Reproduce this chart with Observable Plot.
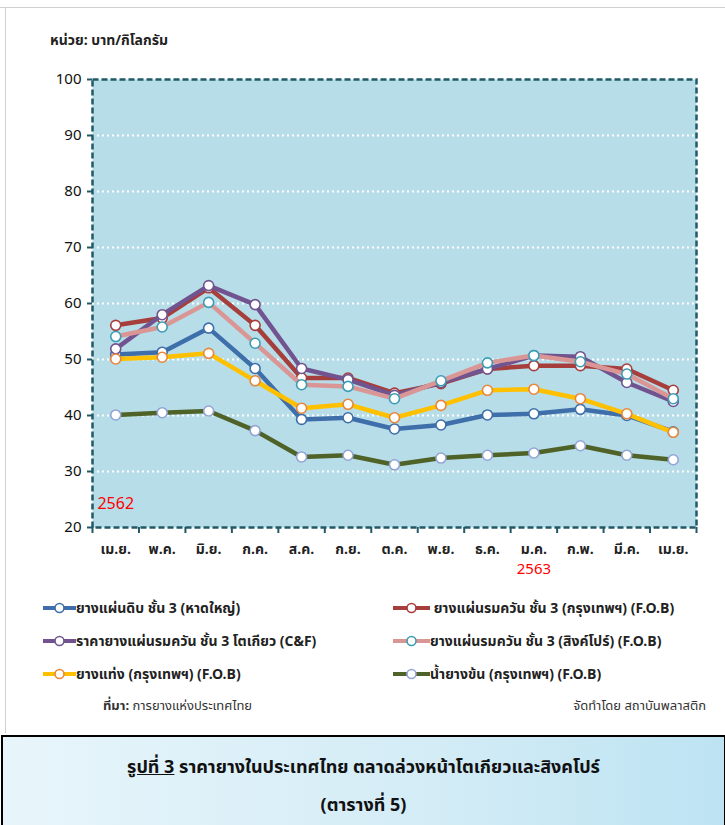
<!DOCTYPE html>
<html>
<head>
<meta charset="utf-8">
<script src="https://cdn.jsdelivr.net/npm/d3@7"></script>
<script src="https://cdn.jsdelivr.net/npm/@observablehq/plot@0.6"></script>
<style>
  html, body { margin: 0; padding: 0; background: #fff; }
  body { width: 725px; height: 825px; overflow: hidden; font-family: "Noto Sans Thai", Tahoma, "Liberation Sans", "DejaVu Sans", sans-serif; }
  #page { position: relative; width: 725px; height: 825px; }
  #chart { position: absolute; left: 0; top: 0; }
  .edge-top { position: absolute; left: 0; top: 7px; width: 725px; height: 1px; background: #d0d0d0; }
  .edge-left { position: absolute; left: 5px; top: 8px; width: 1px; height: 725px; background: #d0d0d0; }
  .unit { position: absolute; left: 50px; top: 30px; font-size: 14px; font-weight: bold; color: #222; }
  .leg { position: absolute; font-size: 14px; font-weight: bold; color: #222; display: flex; align-items: center; white-space: nowrap; }
  .leg svg { display: block; }
  .src { position: absolute; top: 696px; font-size: 13px; color: #333; }
  .titlebox { position: absolute; left: 1px; top: 735px; width: 721px; height: 100px; border: 2px solid #000; background: linear-gradient(90deg, #e8f5fb 0%, #d3ecf6 60%, #bde3f2 100%); text-align: center; font-weight: bold; font-size: 18px; color: #111; }
  .titlebox .l1 { position: absolute; left: 0; right: 0; top: 17px; }
  .titlebox .l2 { position: absolute; left: 0; right: 0; top: 55px; }
</style>
</head>
<body>
<div id="page">
  <div class="edge-top"></div>
  <div class="edge-left"></div>
  <div id="chart"></div>
  <div class="unit">หน่วย: บาท/กิโลกรัม</div>
  <div id="legend"></div>
  <div class="src" style="left:103px;"><b>ที่มา:</b> การยางแห่งประเทศไทย</div>
  <div class="src" style="right:19px;">จัดทำโดย สถาบันพลาสติก</div>
  <div class="titlebox">
    <div class="l1"><u>รูปที่ 3</u> ราคายางในประเทศไทย ตลาดล่วงหน้าโตเกียวและสิงคโปร์</div>
    <div class="l2">(ตารางที่ 5)</div>
  </div>
</div>
<script>
// ---- data ----
const months = ["เม.ย.","พ.ค.","มิ.ย.","ก.ค.","ส.ค.","ก.ย.","ต.ค.","พ.ย.","ธ.ค.","ม.ค.","ก.พ.","มี.ค.","เม.ย."];
const yearLabels = ["2562", "2563"];
const yearPositions = [0, 9];
const yTicks = [20, 30, 40, 50, 60, 70, 80, 90, 100];

const rss3Hatyai = [50.9, 51.3, 55.6, 48.4, 39.3, 39.6, 37.6, 38.3, 40.1, 40.3, 41.1, 40.0, 37.1];
const rss3Bangkok = [56.1, 57.4, 62.8, 56.1, 46.7, 46.7, 44.0, 45.7, 48.3, 48.9, 48.9, 48.3, 44.5];
const rss3Tokyo = [51.9, 58.0, 63.2, 59.8, 48.4, 46.4, 43.6, 45.9, 48.3, 50.7, 50.5, 45.9, 42.5];
const rss3Singapore = [54.1, 55.8, 60.2, 52.9, 45.5, 45.2, 43.0, 46.2, 49.4, 50.7, 49.6, 47.4, 43.0];
const str20Bangkok = [50.1, 50.4, 51.1, 46.2, 41.3, 42.0, 39.6, 41.8, 44.5, 44.7, 43.0, 40.3, 37.0];
const latexBangkok = [40.1, 40.5, 40.8, 37.3, 32.6, 32.9, 31.2, 32.4, 32.9, 33.3, 34.6, 32.9, 32.1];

const seriesNames = [
  "ยางแผ่นดิบ ชั้น 3 (หาดใหญ่)",
  " ยางแผ่นรมควัน ชั้น 3 (กรุงเทพฯ) (F.O.B)",
  "ราคายางแผ่นรมควัน ชั้น 3 โตเกียว (C&F)",
  "ยางแผ่นรมควัน ชั้น 3 (สิงค์โปร์) (F.O.B)",
  "ยางแท่ง (กรุงเทพฯ) (F.O.B)",
  "น้ำยางข้น (กรุงเทพฯ) (F.O.B)"
];
const seriesValues = [rss3Hatyai, rss3Bangkok, rss3Tokyo, rss3Singapore, str20Bangkok, latexBangkok];
const lineColors = ["#3F6FAA", "#A63E3C", "#71548F", "#DA9694", "#FFC000", "#4F6228"];
const markerColors = ["#3F6FAA", "#A63E3C", "#71548F", "#3A9DB5", "#E8863A", "#93A4D6"];

// ---- table ----
const rows = [];
seriesValues.forEach((vals, s) => vals.forEach((v, i) => rows.push({s, i, v})));
const years = yearLabels.map((label, k) => ({label, i: yearPositions[k]}));
const boundaries = d3.range(months.length + 1).map(k => k - 0.5);

const marks = [
  Plot.frame({fill: "#B7DDE8"}),
  Plot.gridY(yTicks.slice(1, -1), {stroke: "#fff", strokeOpacity: 1, strokeWidth: 2, strokeDasharray: "2,3"}),
  Plot.axisY(yTicks, {label: null, tickSize: 5, tickPadding: 6, stroke: "#215967", strokeWidth: 2, fontSize: 15, fill: "#111"}),
  Plot.axisX(boundaries, {label: null, tickSize: 6, tickFormat: () => "", stroke: "#215967", strokeWidth: 2}),
  Plot.axisX(d3.range(months.length), {label: null, tickSize: 0, tickPadding: 17, tickFormat: i => months[i], fontSize: 14, fontWeight: "bold", fill: "#222"})
];
seriesValues.forEach((vals, s) => {
  const d = rows.filter(r => r.s === s);
  marks.push(Plot.line(d, {x: "i", y: "v", stroke: lineColors[s], strokeWidth: 4.5, strokeLinejoin: "round"}));
  marks.push(Plot.dot(d, {x: "i", y: "v", r: 5, fill: "#fff", stroke: markerColors[s], strokeWidth: 1.6}));
});
marks.push(
  Plot.frame({stroke: "#215967", strokeWidth: 2.5, strokeDasharray: "6,3"}),
  Plot.text(years.slice(0, 1), {x: "i", text: "label", frameAnchor: "bottom", dy: -19, fill: "#FF0000", fontSize: 16}),
  Plot.text(years.slice(1), {x: "i", text: "label", frameAnchor: "bottom", dy: 46, fill: "#FF0000", fontSize: 15})
);

const chart = Plot.plot({
  width: 725,
  height: 580,
  marginTop: 79,
  marginBottom: 53,
  marginLeft: 92,
  marginRight: 29,
  style: {fontFamily: "'Noto Sans Thai', Tahoma, 'Liberation Sans', sans-serif", background: "transparent", overflow: "visible"},
  x: {domain: [-0.5, months.length - 0.5], label: null},
  y: {domain: [20, 100], label: null},
  marks
});
document.getElementById("chart").appendChild(chart);

// ---- legend ----
const legendPos = [
  {left: 43, top: 608, sw: 33}, {left: 393, top: 608, sw: 37},
  {left: 43, top: 641, sw: 33}, {left: 393, top: 641, sw: 37},
  {left: 43, top: 674, sw: 33}, {left: 393, top: 674, sw: 37}
];
const legend = document.getElementById("legend");
seriesNames.forEach((name, s) => {
  const p = legendPos[s];
  const div = document.createElement("div");
  div.className = "leg";
  div.style.left = p.left + "px";
  div.style.top = (p.top - 10) + "px";
  div.style.height = "20px";
  const w = p.sw;
  div.innerHTML = `<svg width="${w}" height="12"><line x1="0" y1="6" x2="${w}" y2="6" stroke="${lineColors[s]}" stroke-width="4"/><circle cx="${w/2}" cy="6" r="4.5" fill="#fff" stroke="${markerColors[s]}" stroke-width="1.6"/></svg>`;
  const span = document.createElement("span");
  span.textContent = name;
  span.style.whiteSpace = "pre";
  div.appendChild(span);
  legend.appendChild(div);
});
</script>
</body>
</html>
